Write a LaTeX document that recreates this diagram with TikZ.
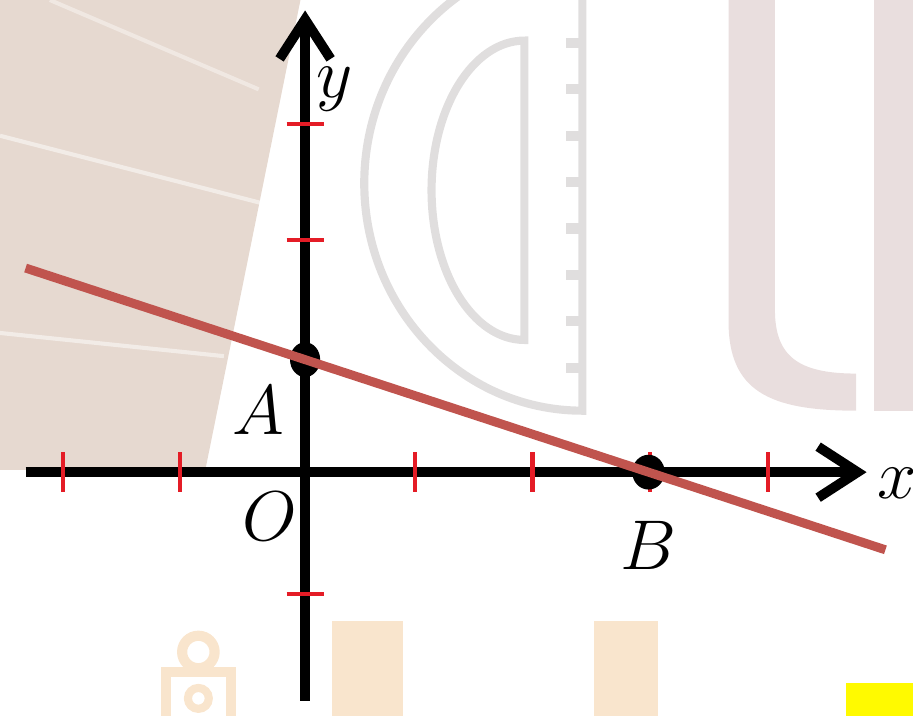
\documentclass[tikz,border=0pt]{standalone}
\usepackage{tikz}
\usetikzlibrary{arrows.meta, calc}
\definecolor{lineRed}{RGB}{192, 84, 78}
\definecolor{tickRed}{RGB}{228, 28, 38}
\definecolor{bgBeige}{RGB}{230, 217, 208}
\definecolor{bgMauve}{RGB}{233, 222, 222}
\definecolor{bgOrange}{RGB}{249, 229, 205}
\definecolor{bgGray}{RGB}{224, 222, 222}
\definecolor{markYellow}{RGB}{255, 250, 0}

\begin{document}
\begin{tikzpicture}[
    axisline/.style={line width=2.4pt, -{Straight Barb[length=3.4mm, width=4.4mm]}},
    tickmark/.style={tickRed, line width=1pt},
    ptlabel/.style={font=\LARGE, inner sep=1pt}
]
    \useasboundingbox (-2.63,-2.095) rectangle (5.24,4.07);

    % Background
    \fill[bgBeige] (-2.63,4.07) -- (-0.04,4.07) -- (-0.86,0.02) -- (-2.63,0.02) -- cycle;
    \draw[white, opacity=0.5, line width=1pt] (-2.63,2.9) -- (-0.3,2.3);
    \draw[white, opacity=0.5, line width=1pt] (-2.63,1.2) -- (-0.7,1.0);
    \draw[white, opacity=0.4, line width=1pt] (-2.2,4.07) -- (-0.4,3.3);

    \draw[bgGray, line width=2pt] (2.39,4.45) arc[start angle=90, end angle=270, x radius=1.88, y radius=1.96] -- cycle;
    \draw[bgGray, line width=2pt] (1.89,3.72) arc[start angle=90, end angle=270, x radius=0.8, y radius=1.29] -- cycle;
    \foreach \v in {0.9,1.3,...,4.1}
        \draw[bgGray, line width=2.5pt] (2.39,\v) -- (2.25,\v);

    \fill[bgMauve] (3.65,4.2) -- (3.65,1.3) .. controls (3.65,0.7) and (4.0,0.53) .. (4.75,0.53)
        -- (4.75,0.85) .. controls (4.25,0.85) and (4.05,1.0) .. (4.05,1.4) -- (4.05,4.2) -- cycle;
    \fill[bgMauve] (4.9,4.2) rectangle (5.3,0.53);

    \draw[bgOrange, line width=2.5pt] (-0.92,-1.55) circle (0.14);
    \draw[bgOrange, line width=2.5pt] (-1.2,-2.2) -- (-1.2,-1.72) -- (-0.64,-1.72) -- (-0.64,-2.2);
    \draw[bgOrange, line width=2pt] (-0.92,-1.95) circle (0.09);
    \fill[bgOrange] (0.23,-1.28) rectangle (0.84,-2.2);
    \fill[bgOrange] (2.49,-1.28) rectangle (3.04,-2.2);
    \fill[markYellow] (4.66,-1.82) rectangle (5.3,-2.2);

    % Axes
    \coordinate (O) at (0,0);
    \coordinate (xstart) at (-2.41,0);
    \coordinate (xend) at (4.84,0);
    \coordinate (ystart) at (0,-1.97);
    \coordinate (yend) at (0,3.98);
    \draw[axisline] (xstart) -- (xend);
    \draw[axisline] (ystart) -- (yend);

    % Ticks
    \draw[tickmark] (-2.09,-0.17) -- (-2.09,0.17);
    \draw[tickmark] (-1.08,-0.17) -- (-1.08,0.17);
    \draw[tickmark] (0.95,-0.17) -- (0.95,0.17);
    \draw[tickmark] (1.96,-0.17) -- (1.96,0.17);
    \draw[tickmark] (2.97,-0.17) -- (2.97,0.17);
    \draw[tickmark] (3.99,-0.17) -- (3.99,0.17);
    \draw[tickmark] (-0.16,2) -- (0.16,2);
    \draw[tickmark] (-0.16,3) -- (0.16,3);
    \draw[tickmark] (-0.16,-1.05) -- (0.16,-1.05);

    % Points and line
    \coordinate (A) at (0,0.97);
    \coordinate (B) at (2.96,0);
    \fill (A) ellipse (0.13 and 0.15);
    \fill (B) ellipse (0.14 and 0.15);
    \draw[lineRed, line width=2.2pt] ($(A)!-0.814!(B)$) -- ($(A)!1.69!(B)$);

    % Labels
    \node[ptlabel] (labX) at (5.1,-0.1) {$x$};
    \node[ptlabel] (labY) at (0.25,3.3) {$y$};
    \node[ptlabel] (labA) at (-0.4,0.53) {$A$};
    \node[ptlabel] (labO) at (-0.3,-0.38) {$O$};
    \node[ptlabel] (labB) at (2.96,-0.63) {$B$};
\end{tikzpicture}
\end{document}
